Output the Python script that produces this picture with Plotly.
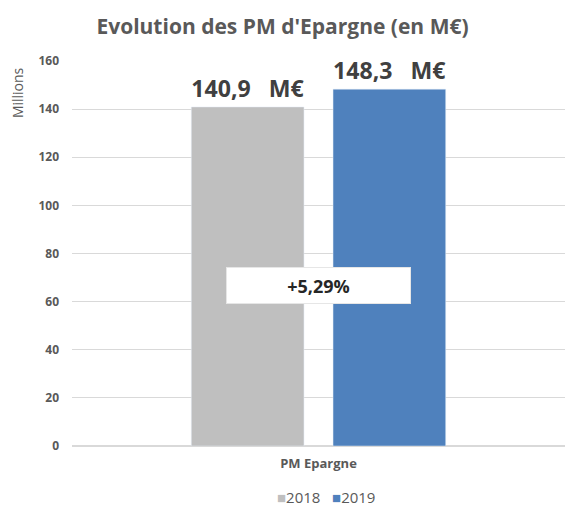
import plotly.graph_objects as go

categories = ["PM Epargne"]
series_names = ["2018", "2019"]
series_colors = ["#BFBFBF", "#4F81BD"]
values_2018 = [140.9]
values_2019 = [148.3]
labels_2018 = ["140,9\u00a0\u00a0 M€"]
labels_2019 = ["148,3\u00a0\u00a0 M€"]
growth_label = "+5,29%"
growth_y = 66.7
y_ticks = [0, 20, 40, 60, 80, 100, 120, 140, 160]

FONT = "'Open Sans', sans-serif"
GREY_TXT = "#595959"

fig = go.Figure()
fig.add_trace(go.Bar(
    x=categories, y=values_2018, name=series_names[0],
    marker=dict(color=series_colors[0]),
    text=labels_2018, textposition="outside", cliponaxis=False,
    textfont=dict(family=FONT, size=24, color="#404040", weight="bold"),
))
fig.add_trace(go.Bar(
    x=categories, y=values_2019, name=series_names[1],
    marker=dict(color=series_colors[1]),
    text=labels_2019, textposition="outside", cliponaxis=False,
    textfont=dict(family=FONT, size=24, color="#404040", weight="bold"),
))

fig.update_layout(
    width=565, height=507,
    margin=dict(l=72, r=0, t=61, b=61, autoexpand=False),
    paper_bgcolor="white", plot_bgcolor="white",
    barmode="group", bargap=0.425, bargroupgap=0.205,
    font=dict(family=FONT, color=GREY_TXT),
    title=dict(text="<b>Evolution des PM d'Epargne (en M€)</b>",
               x=0.5, xanchor="center", y=0.947, yanchor="middle",
               font=dict(family=FONT, size=21, color=GREY_TXT)),
    showlegend=False,
)
fig.update_yaxes(
    range=[0, 160], tickvals=y_ticks, showgrid=True, gridcolor="#D9D9D9", gridwidth=1,
    zeroline=True, zerolinecolor="#D9D9D9", zerolinewidth=2,
    showline=False, ticks="", ticklabelstandoff=12, automargin=False,
    tickfont=dict(family=FONT, size=12, color=GREY_TXT, weight="bold"),
)
fig.update_xaxes(
    showline=False, ticks="", showgrid=False, automargin=False,
    tickfont=dict(family=FONT, size=13, color=GREY_TXT, weight="bold"),
    ticklabelstandoff=8,
)
fig.add_annotation(
    x=categories[0], y=growth_y, xref="x", yref="y",
    text="<b>" + growth_label + "</b>", showarrow=False,
    width=181, height=33, bgcolor="white", bordercolor="#E6E6E6", borderwidth=1,
    font=dict(family=FONT, size=18, color="#262626"),
)
fig.add_annotation(
    x=-0.11, y=0.99, xref="paper", yref="paper", xanchor="center", yanchor="top",
    text="Millions", textangle=-90, showarrow=False,
    font=dict(family=FONT, size=14, color=GREY_TXT),
)
legend_text = "\u00a0\u00a0\u00a0".join(
    "<span style='color:%s'>■</span>%s" % (c, n) for c, n in zip(series_colors, series_names)
)
fig.add_annotation(
    x=(326 - 72) / (565 - 72), y=(446 - 497) / (446 - 61),
    xref="paper", yref="paper", showarrow=False,
    text=legend_text, font=dict(family=FONT, size=15, color=GREY_TXT),
    xanchor="center", yanchor="middle",
)

fig.write_html("out.html", config={"displayModeBar": False})
with open("out.html", encoding="utf-8") as f:
    html = f.read()
html = html.replace("<body>", "<body style=\"margin:0\">", 1)
with open("out.html", "w", encoding="utf-8") as f:
    f.write(html)
